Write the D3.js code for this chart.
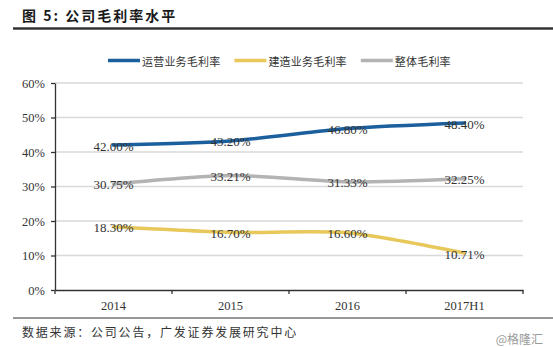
<!DOCTYPE html>
<html>
<head>
<meta charset="utf-8">
<script src="https://cdn.jsdelivr.net/npm/d3@7"></script>
<style>
  body { margin: 0; background: #fff; }
  svg { display: block; }
  .num { font-family: "Liberation Serif", "DejaVu Serif", serif; fill: #333; }
  .cjk { font-family: "Noto Sans CJK SC", sans-serif; }
</style>
</head>
<body>
<div class="chart"></div>
<script>
var years = ["2014", "2015", "2016", "2017H1"];
var opMargin = [42.00, 43.20, 46.80, 48.40];      // 运营业务毛利率
var buildMargin = [18.30, 16.70, 16.60, 10.71];   // 建造业务毛利率
var totalMargin = [30.75, 33.21, 31.33, 32.25];   // 整体毛利率
var seriesNames = ["运营业务毛利率", "建造业务毛利率", "整体毛利率"];
var seriesColors = ["#1b5f9d", "#e8c85a", "#b3b3b3"];
var yTicks = [0, 10, 20, 30, 40, 50, 60];

var svgWidth = 553;
var svgHeight = 347;

var svg = d3.select(".chart")
  .append("svg")
  .attr("width", svgWidth)
  .attr("height", svgHeight);

// plot frame
var plot = { left: 55, right: 523, top: 83, bottom: 290 };

var x = d3.scaleBand()
  .domain(years)
  .range([plot.left, plot.right]);

var y = d3.scaleLinear()
  .domain([0, 60])
  .range([plot.bottom, plot.top]);

// title + rule
svg.append("text")
  .attr("class", "cjk")
  .attr("x", 22)
  .attr("y", 21)
  .attr("font-size", 14)
  .attr("font-weight", "bold")
  .attr("letter-spacing", 2)
  .attr("fill", "#1a1a1a")
  .text("图 5:  公司毛利率水平");

svg.append("line")
  .attr("x1", 13).attr("x2", svgWidth)
  .attr("y1", 28.5).attr("y2", 28.5)
  .attr("stroke", "#333")
  .attr("stroke-width", 2.5);

// gridlines
svg.append("g")
  .selectAll("line")
  .data(yTicks.slice(1))
  .enter()
  .append("line")
  .attr("x1", plot.left).attr("x2", plot.right)
  .attr("y1", d => y(d)).attr("y2", d => y(d))
  .attr("stroke", "#d9d9d9")
  .attr("stroke-width", 1.5);

// y axis
var leftAxis = d3.axisLeft(y)
  .tickValues(yTicks)
  .tickSize(4)
  .tickSizeOuter(0)
  .tickPadding(6)
  .tickFormat(d => d + "%");

var yAxisG = svg.append("g")
  .attr("transform", `translate(${plot.left}, 0)`)
  .call(leftAxis);
yAxisG.select(".domain").attr("stroke", "#333").attr("stroke-width", 1.3);
yAxisG.selectAll(".tick line").attr("stroke", "#333").attr("stroke-width", 1.3);
yAxisG.selectAll(".tick text")
  .attr("class", "num")
  .attr("font-size", 12.5);

// x axis: labels centred in bands, ticks on the band edges
var bottomAxis = d3.axisBottom(x)
  .tickSize(0)
  .tickSizeOuter(0)
  .tickPadding(11);

var xAxisG = svg.append("g")
  .attr("transform", `translate(0, ${plot.bottom})`)
  .call(bottomAxis);
xAxisG.select(".domain").attr("stroke", "#333").attr("stroke-width", 1.3);
xAxisG.selectAll(".tick text")
  .attr("class", "num")
  .attr("font-size", 12.5);

var edges = years.map(d => x(d)).concat([x.range()[1]]);
xAxisG.selectAll(".edge")
  .data(edges)
  .enter()
  .append("line")
  .attr("class", "edge")
  .attr("x1", d => d).attr("x2", d => d)
  .attr("y1", 0).attr("y2", 4)
  .attr("stroke", "#333")
  .attr("stroke-width", 1.3);

// lines
var allSeries = [opMargin, buildMargin, totalMargin];
var cx = d => x(d) + x.bandwidth() / 2;

var line = d3.line()
  .x((d, i) => cx(years[i]))
  .y(d => y(d))
  .curve(d3.curveCardinal.tension(0.3));

// grey first, then yellow, blue on top
[2, 1, 0].forEach(function (k) {
  svg.append("path")
    .datum(allSeries[k])
    .attr("d", line)
    .attr("fill", "none")
    .attr("stroke", seriesColors[k])
    .attr("stroke-width", 3.5)
    .attr("stroke-linecap", "round");
});

// value labels sit right on the points
allSeries.forEach(function (vals) {
  svg.append("g")
    .selectAll("text")
    .data(vals)
    .enter()
    .append("text")
    .attr("class", "num")
    .attr("font-size", 13)
    .attr("text-anchor", "middle")
    .attr("dominant-baseline", "central")
    .attr("x", (d, i) => cx(years[i]))
    .attr("y", d => y(d) + 1)
    .text(d => d.toFixed(2) + "%");
});

// legend
var legend = svg.append("g");
var lx = 108;
seriesNames.forEach(function (name, k) {
  legend.append("line")
    .attr("x1", lx).attr("x2", lx + 32)
    .attr("y1", 60.5).attr("y2", 60.5)
    .attr("stroke", seriesColors[k])
    .attr("stroke-width", 3.5);
  var t = legend.append("text")
    .attr("class", "cjk")
    .attr("x", lx + 34)
    .attr("y", 60.5)
    .attr("dominant-baseline", "central")
    .attr("font-size", 11)
    .attr("letter-spacing", 0.2)
    .attr("fill", "#333")
    .text(name);
  lx += 34 + t.node().getComputedTextLength() + 14;
});

// bottom rule + source
svg.append("line")
  .attr("x1", 13).attr("x2", svgWidth)
  .attr("y1", 318).attr("y2", 318)
  .attr("stroke", "#333")
  .attr("stroke-width", 1.2);

svg.append("text")
  .attr("class", "cjk")
  .attr("x", 22)
  .attr("y", 331)
  .attr("dominant-baseline", "central")
  .attr("font-size", 12)
  .attr("letter-spacing", 1.8)
  .attr("fill", "#333")
  .text("数据来源：公司公告，广发证券发展研究中心");

svg.append("text")
  .attr("class", "cjk")
  .attr("x", 543)
  .attr("y", 338)
  .attr("text-anchor", "end")
  .attr("dominant-baseline", "central")
  .attr("font-size", 12)
  .attr("fill", "#9a9a9a")
  .text("@格隆汇");
</script>
</body>
</html>
